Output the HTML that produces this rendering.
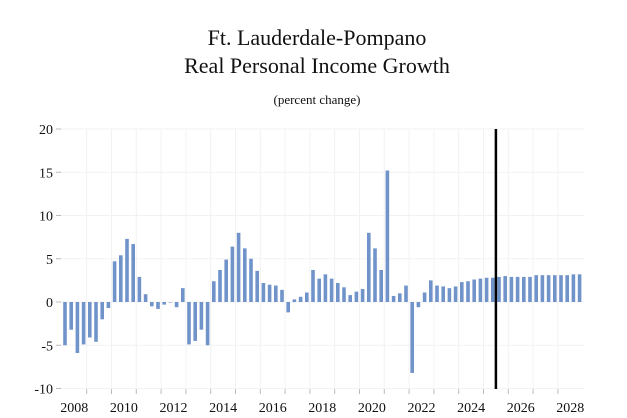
<!DOCTYPE html>
<html><head><meta charset="utf-8"><style>
html,body{margin:0;padding:0;background:#fff;}
svg{display:block;font-family:"Liberation Serif",serif;}
</style></head><body>
<svg id="chart" width="627" height="418" viewBox="0 0 627 418">
<text x="317" y="45" text-anchor="middle" font-size="22" fill="#111">Ft. Lauderdale-Pompano</text>
<text x="317" y="73" text-anchor="middle" font-size="22" fill="#111">Real Personal Income Growth</text>
<text x="317" y="104" text-anchor="middle" font-size="13" fill="#111">(percent change)</text>
<g id="grid"></g><g id="bars"></g><g id="axes"></g>
</svg>
<script>
const years = [2008,2009,2010,2011,2012,2013,2014,2015,2016,2017,2018,2019,2020,2021,2022,2023,2024,2025,2026,2027,2028];
const values = [
-5.0,-3.2,-5.9,-4.9, -4.1,-4.6,-2.0,-0.7, 4.7,5.4,7.3,6.7, 2.9,0.9,-0.5,-0.8,
-0.3,0.0,-0.6,1.6, -4.9,-4.5,-3.2,-5.0, 2.4,3.7,4.9,6.4, 8.0,6.2,5.0,3.6,
2.2,2.0,1.9,1.4, -1.2,0.3,0.6,1.1, 3.7,2.7,3.2,2.7, 2.2,1.7,0.8,1.2,
1.5,8.0,6.2,3.7, 15.2,0.7,1.0,1.9, -8.2,-0.6,1.1,2.5, 1.9,1.8,1.6,1.8,
2.3,2.4,2.6,2.7, 2.8,2.8,2.9,3.0, 2.9,2.9,2.9,2.9, 3.1,3.1,3.1,3.1, 3.1,3.1,3.2,3.2];
const yTicks = [20,15,10,5,0,-5,-10];
const xLabels = [2008,2010,2012,2014,2016,2018,2020,2022,2024,2026,2028];
const forecastIndex = 69.5;

const NS="http://www.w3.org/2000/svg";
const x0=65, step=6.2, yZero=302, pxPer=8.65;
const xPos=i=>x0+i*step;
const yPos=v=>yZero-v*pxPer;
function mk(tag,attrs,parent){const e=document.createElementNS(NS,tag);for(const k in attrs)e.setAttribute(k,attrs[k]);parent.appendChild(e);return e;}
const grid=document.getElementById('grid'),bars=document.getElementById('bars'),axes=document.getElementById('axes');
yTicks.forEach(t=>{
  const gl=mk('line',{x1:60,x2:584,y1:yPos(t),y2:yPos(t),stroke:'#f2f2f2','stroke-width':1},grid);
  
  
  const tk=mk('line',{x1:56,x2:61,y1:yPos(t),y2:yPos(t),stroke:'#bbb'},axes);
  
  
  const tx=mk('text',{x:53,y:yPos(t)+5,'text-anchor':'end','font-size':14,fill:'#111'},axes);
  tx.textContent=t;
  
  
});
years.forEach((y,k)=>{
  const gx=xPos(k*4-0.5);
  if(k>0){
    const gl=mk('line',{x1:gx,x2:gx,y1:129,y2:389,stroke:'#f2f2f2'},grid);
    
    
    const tk=mk('line',{x1:gx,x2:gx,y1:389,y2:394,stroke:'#bbb'},axes);
    
    
  }
});
xLabels.forEach(y=>{
  const k=years.indexOf(y);
  const tx=mk('text',{x:xPos(k*4+1.5),y:412,'text-anchor':'middle','font-size':14,fill:'#111'},axes);
  tx.textContent=y;
  
  
});
values.forEach((v,i)=>{
  const top=Math.min(yPos(v),yZero),h=Math.abs(yPos(v)-yZero);
  const r=mk('rect',{x:xPos(i)-1.8,y:top,width:3.6,height:Math.max(h,0.5),fill:'#7093c9'},bars);
  
  
});
const fl=mk('line',{x1:xPos(forecastIndex),x2:xPos(forecastIndex),y1:129,y2:389,stroke:'#000','stroke-width':2.5},axes);


</script>
</body></html>
